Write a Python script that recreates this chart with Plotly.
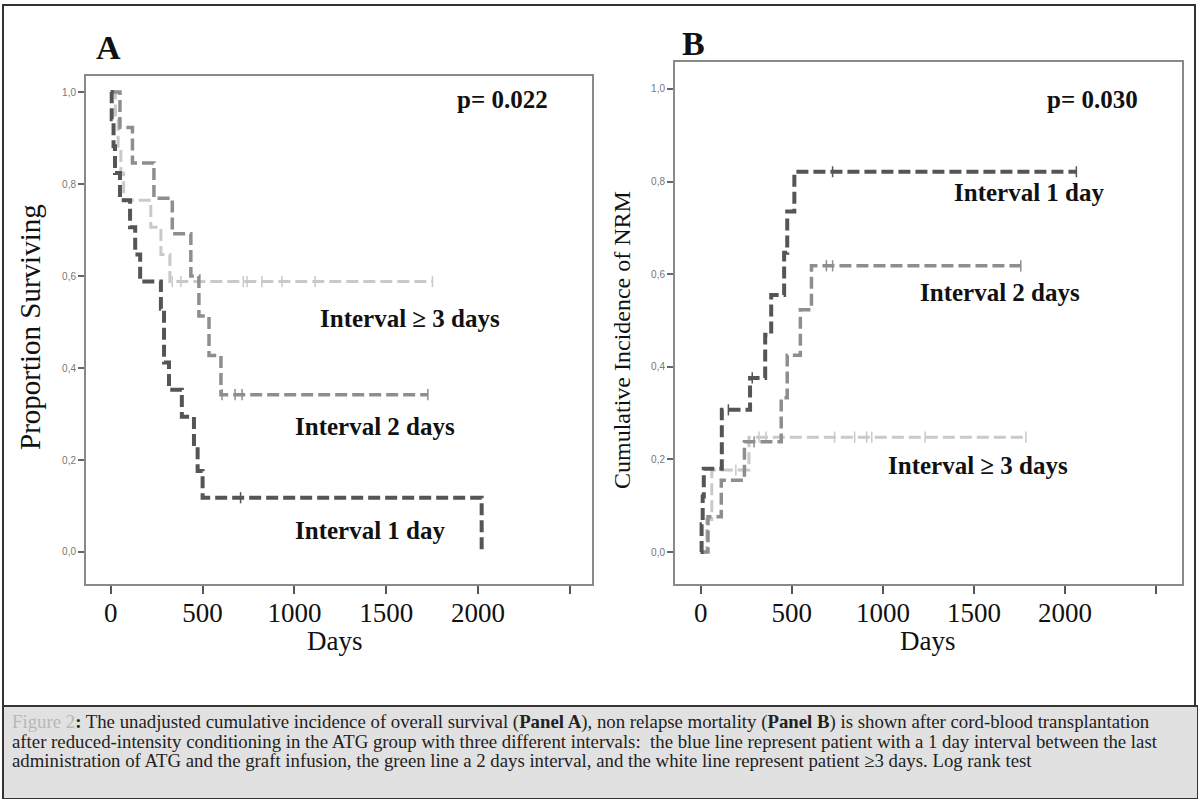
import bisect
import plotly.graph_objects as go

# ---------------- data ----------------
# Panel A: proportion surviving (Kaplan-Meier steps)
A_int1_days = [0, 5, 15, 23, 50, 105, 133, 160, 273, 290, 317, 387, 453, 473, 500, 2020]
A_int1_surv = [1.0, 0.941, 0.882, 0.824, 0.765, 0.706, 0.647, 0.588, 0.529, 0.412, 0.353, 0.294, 0.235, 0.176, 0.118, 0.0]
A_int1_cens = [707]

A_int2_days = [0, 50, 118, 235, 335, 436, 480, 535, 600, 1727]
A_int2_surv = [1.0, 0.923, 0.846, 0.769, 0.692, 0.600, 0.513, 0.427, 0.342, 0.342]
A_int2_cens = [606, 677, 715, 1727]

A_int3_days = [0, 25, 40, 55, 70, 218, 273, 322, 1752]
A_int3_surv = [1.0, 0.941, 0.882, 0.824, 0.765, 0.706, 0.647, 0.588, 0.588]
A_int3_cens = [335, 382, 722, 742, 823, 932, 1113, 1752]

# Panel B: cumulative incidence of NRM
B_int1_days = [0, 5, 11, 17, 116, 271, 354, 387, 458, 475, 514, 2062]
B_int1_cinc = [0.0, 0.06, 0.12, 0.18, 0.307, 0.376, 0.469, 0.555, 0.646, 0.735, 0.821, 0.821]
B_int1_cens = [152, 283, 724, 2062]

B_int2_days = [0, 40, 113, 240, 442, 475, 547, 608, 1757]
B_int2_cinc = [0.0, 0.076, 0.155, 0.238, 0.333, 0.425, 0.523, 0.618, 0.618]
B_int2_cens = [293, 690, 724, 1757]

B_int3_days = [0, 33, 61, 265, 1785]
B_int3_cinc = [0.0, 0.07, 0.177, 0.248, 0.248]
B_int3_cens = [193, 320, 359, 735, 845, 911, 939, 1232, 1785]

x_tick_vals = [0, 500, 1000, 1500, 2000, 2500]
x_tick_text = ["0", "500", "1000", "1500", "2000", ""]
y_tick_vals = [0.0, 0.2, 0.4, 0.6, 0.8, 1.0]
y_tick_text = ["0,0", "0,2", "0,4", "0,6", "0,8", "1,0"]

# ---------------- styling ----------------
W, H = 1198, 799
C1, C2, C3 = "#555555", "#8e8e8e", "#c9c9c9"
SERIF = "Liberation Serif"


def px(x):
    return x / W


def py(y):
    return 1 - y / H


def step_at(ts, vs, t):
    i = bisect.bisect_right(ts, t) - 1
    return vs[max(i, 0)]


fig = go.Figure()

series = [
    ("x", "y", A_int3_days, A_int3_surv, A_int3_cens, C3, 3.0, "Interval ≥ 3 days"),
    ("x", "y", A_int2_days, A_int2_surv, A_int2_cens, C2, 3.5, "Interval 2 days"),
    ("x", "y", A_int1_days, A_int1_surv, A_int1_cens, C1, 4.0, "Interval 1 day"),
    ("x2", "y2", B_int3_days, B_int3_cinc, B_int3_cens, C3, 3.0, "Interval ≥ 3 days"),
    ("x2", "y2", B_int2_days, B_int2_cinc, B_int2_cens, C2, 3.5, "Interval 2 days"),
    ("x2", "y2", B_int1_days, B_int1_cinc, B_int1_cens, C1, 4.0, "Interval 1 day"),
]

for xa, ya, ts, vs, cens, col, w, name in series:
    fig.add_trace(go.Scatter(
        x=ts, y=vs, xaxis=xa, yaxis=ya, mode="lines", name=name,
        line=dict(color=col, width=w, shape="hv", dash="12px,5px"),
        showlegend=False, hoverinfo="skip",
    ))
    fig.add_trace(go.Scatter(
        x=cens, y=[step_at(ts, vs, t) for t in cens], xaxis=xa, yaxis=ya,
        mode="markers", name=name + " censored",
        marker=dict(symbol="line-ns-open", size=8, color=col, line=dict(color=col, width=1.5)),
        showlegend=False, hoverinfo="skip",
    ))

xcommon = dict(
    tickmode="array", tickvals=x_tick_vals, ticktext=x_tick_text,
    ticks="outside", ticklen=8, tickwidth=2, tickcolor="#555",
    showline=True, linecolor="#8a8a8a", linewidth=2, mirror=True,
    showgrid=False, zeroline=False,
    tickfont=dict(family=SERIF, size=27, color="#111"),
    ticklabelstandoff=-4,
)
ycommon = dict(
    tickmode="array", tickvals=y_tick_vals, ticktext=y_tick_text,
    ticks="outside", ticklen=6, tickwidth=1.5, tickcolor="#666",
    showline=True, linecolor="#8a8a8a", linewidth=2, mirror=True,
    showgrid=False, zeroline=False,
    tickfont=dict(family="Liberation Sans", size=10, color="#777"),
)

fig.update_layout(
    width=W, height=H, margin=dict(l=0, r=0, t=0, b=0),
    paper_bgcolor="white", plot_bgcolor="white", showlegend=False,
    xaxis=dict(domain=[px(86), px(592)], range=[-135, 2621], anchor="y", **xcommon),
    yaxis=dict(domain=[py(584), py(76)], range=[-0.0696, 1.035], anchor="x", **ycommon),
    xaxis2=dict(domain=[px(675), px(1181.5)], range=[-141, 2639], anchor="y2", **xcommon),
    yaxis2=dict(domain=[py(584), py(62)], range=[-0.069, 1.058], anchor="x2", **ycommon),
)

ann = []


def text(x, y, s, size, bold=False, xanchor="left", angle=0, color="#111", family=SERIF):
    ann.append(dict(
        x=px(x), y=py(y), xref="paper", yref="paper", showarrow=False,
        text=f"<b>{s}</b>" if bold else s, xanchor=xanchor, yanchor="middle",
        textangle=angle, font=dict(family=family, size=size, color=color),
    ))


# panel letters and p-values
text(94, 47, "A", 34, bold=True)
text(680, 44, "B", 34, bold=True)
text(455, 100, "p= 0.022", 25, bold=True)
text(1045, 100, "p= 0.030", 25, bold=True)
# curve labels
text(318, 318, "Interval ≥ 3 days", 25, bold=True)
text(293, 426, "Interval 2 days", 25, bold=True)
text(293, 530, "Interval 1 day", 25, bold=True)
text(952, 192, "Interval 1 day", 25, bold=True)
text(918, 292, "Interval 2 days", 25, bold=True)
text(886, 465, "Interval ≥ 3 days", 25, bold=True)
# axis titles
text(335, 641, "Days", 27, xanchor="center")
text(928, 641, "Days", 27, xanchor="center")
text(30, 327, "Proportion Surviving", 29, xanchor="center", angle=-90)
text(622, 340, "Cumulative Incidence of NRM", 24, xanchor="center", angle=-90)

# caption
cap = [
    "<span style='color:#b8b8b8'>Figure 2</span><b>:</b> The unadjusted cumulative incidence of overall survival "
    "(<b>Panel A</b>), non relapse mortality (<b>Panel B</b>) is shown after cord-blood transplantation",
    "after reduced-intensity conditioning in the ATG group with three different intervals:  the blue line "
    "represent patient with a 1 day interval between the last",
    "administration of ATG and the graft infusion, the green line a 2 days interval, and the white line "
    "represent patient ≥3 days. Log rank test",
]
for i, line in enumerate(cap):
    text(10, 722 + 19 * i, line, 18.8, color="#222")

fig.update_layout(annotations=ann)

fig.update_layout(shapes=[
    dict(type="rect", xref="paper", yref="paper", x0=px(3), x1=px(1195), y0=py(706), y1=py(5),
         line=dict(color="#333", width=2), fillcolor="rgba(0,0,0,0)", layer="below"),
    dict(type="rect", xref="paper", yref="paper", x0=px(3), x1=px(1198), y0=py(799), y1=py(706),
         line=dict(color="#333", width=2), fillcolor="#e1e1e1", layer="below"),
])

fig.write_html(
    "out.html",
    config={"displayModeBar": False},
    post_script="document.body.style.margin='0px';document.body.style.overflow='hidden';",
)
